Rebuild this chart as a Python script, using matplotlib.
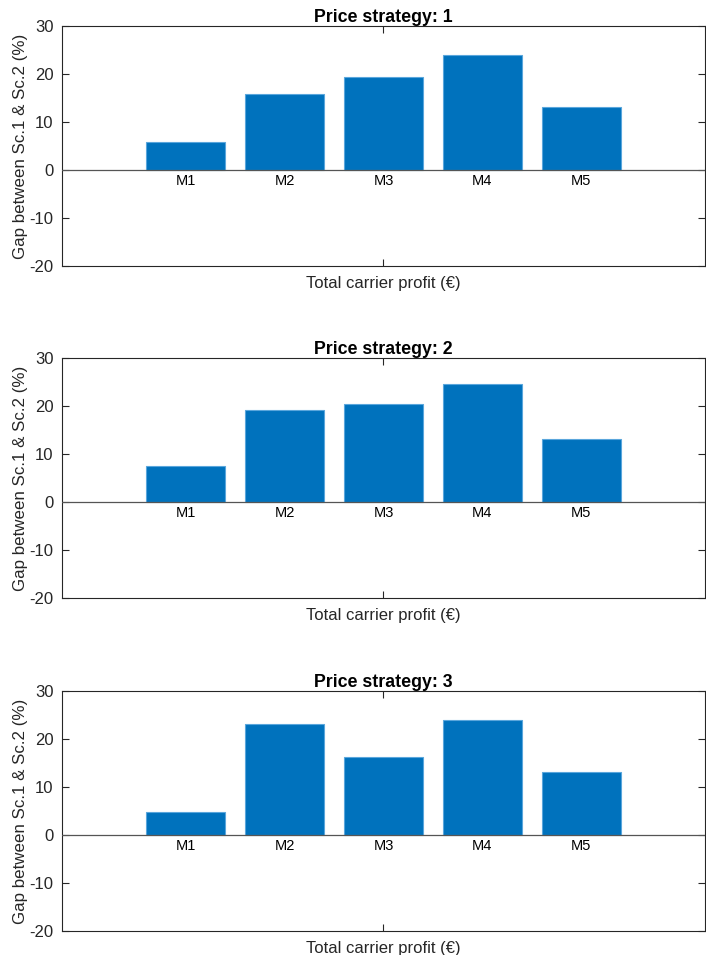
import numpy as np
import matplotlib
matplotlib.use('Agg')
import matplotlib.pyplot as plt

plt.rcParams['font.family'] = ['Liberation Sans', 'DejaVu Sans']

models = ['M1', 'M2', 'M3', 'M4', 'M5']
strategies = ['1', '2', '3']
gap_s1 = [5.9, 15.8, 19.3, 24.0, 13.1]
gap_s2 = [7.5, 19.2, 20.4, 24.6, 13.1]
gap_s3 = [4.9, 23.1, 16.2, 23.9, 13.1]
yticks = [-20, -10, 0, 10, 20, 30]

all_gaps = [gap_s1, gap_s2, gap_s3]
bottoms = [0.7215, 0.3738, 0.0251]

fig = plt.figure(figsize=(7.06, 9.55), dpi=100)
x = np.arange(1, len(models) + 1)
axcol = '#262626'

for strat, gaps, b in zip(strategies, all_gaps, bottoms):
    ax = fig.add_axes([0.0878, b, 0.9107, 0.2513])
    ax.bar(x, gaps, width=0.8, color='#0072BD', edgecolor='#5aa6dc', linewidth=0.8, zorder=2)
    ax.axhline(0, color='#555555', linewidth=0.9, zorder=3)
    for xi, m in zip(x, models):
        ax.text(xi, -0.8, m, ha='center', va='top', fontsize=10.5, color='black')
    ax.set_xlim(-0.25, 6.25)
    ax.set_ylim(-20, 30)
    ax.set_yticks(yticks)
    ax.set_yticklabels([str(t) for t in yticks], fontsize=12)
    ax.set_xticks([3])
    ax.set_xticklabels([''])
    ax.tick_params(direction='in', length=5, width=0.8, color=axcol,
                   top=True, right=True, labelcolor=axcol, pad=6)
    for s in ax.spines.values():
        s.set_color(axcol)
        s.set_linewidth(0.8)
    ax.set_title('Price strategy: ' + strat, fontsize=12.8, fontweight='bold', pad=3)
    ax.set_xlabel('Total carrier profit (€)', fontsize=12, color=axcol, labelpad=1)
    ax.set_ylabel('Gap between Sc.1 & Sc.2 (%)', fontsize=12.2, color=axcol, labelpad=1)

fig.savefig('out.png', dpi=100)
